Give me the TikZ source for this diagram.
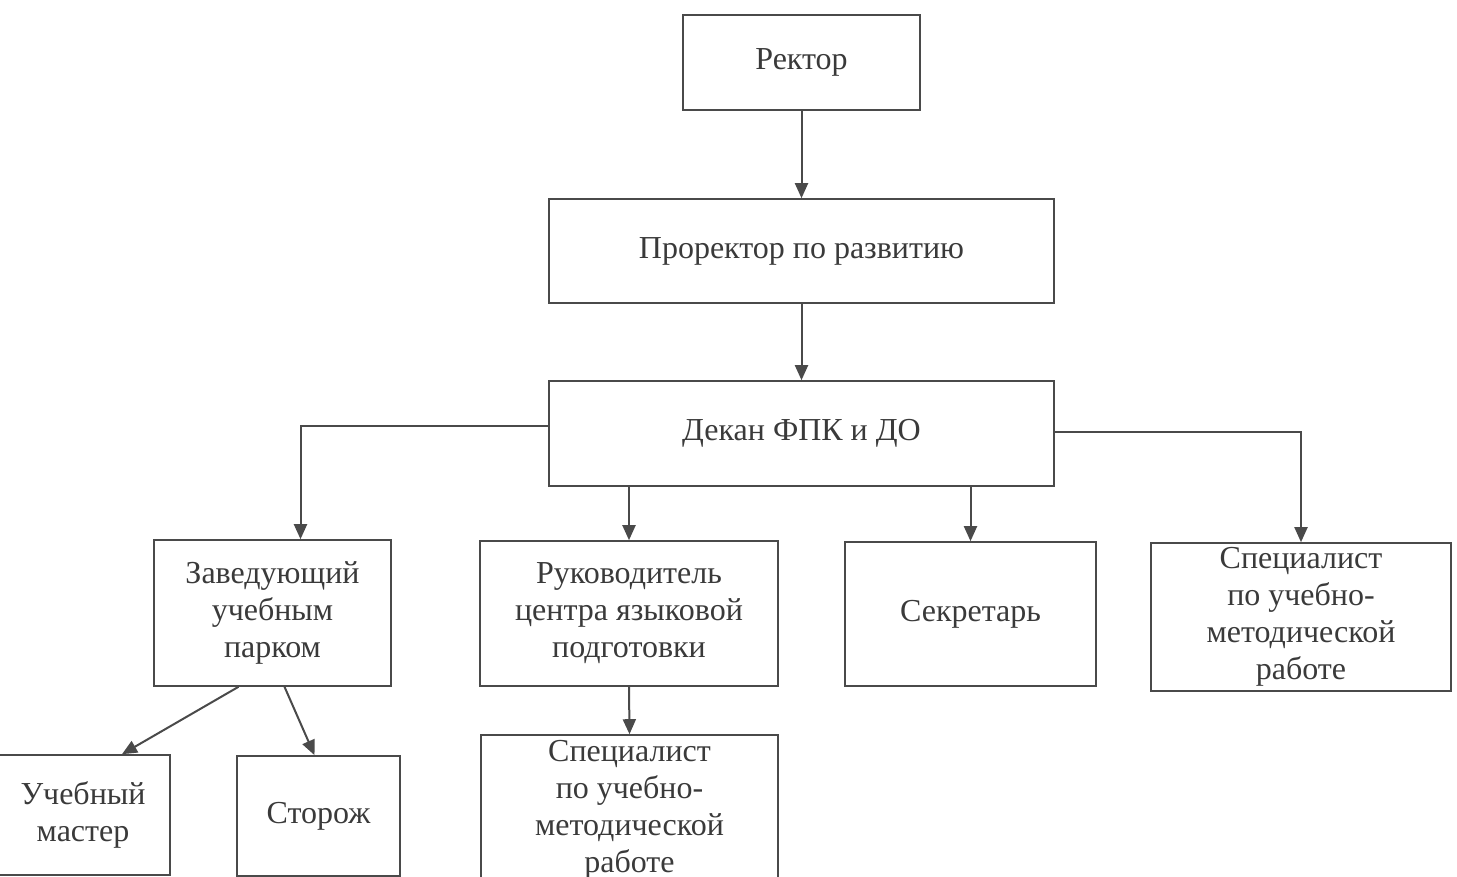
\documentclass[tikz,border=0pt]{standalone}
\usepackage{fontspec}
\setmainfont{Liberation Serif}
\usetikzlibrary{arrows.meta}
\definecolor{ink}{HTML}{3A3A3A}
\definecolor{edge}{HTML}{4A4A4A}

\begin{document}
\begin{tikzpicture}[x=0.5pt,y=-0.5pt,
    box/.style={draw=edge, line width=0.8pt, inner sep=0pt, align=center,
        text=ink, font=\fontsize{16}{18.5}\selectfont},
    arr/.style={draw=edge, line width=1pt, -{Triangle[length=7.5pt,width=6.5pt]}}]
    \useasboundingbox (0,0) rectangle (1457,877);
    \clip (0,0) rectangle (1457,877);

    \node[box, minimum width=118.5pt, minimum height=47.5pt] at (801.5, 62.5)  (rektor)  {Ректор};
    \node[box, minimum width=252.5pt, minimum height=52pt]   at (801.5, 251)   (prorektor) {Проректор по развитию};
    \node[box, minimum width=252.5pt, minimum height=52.5pt] at (801.5, 433.5) (dekan)   {Декан ФПК и ДО};
    \node[box, minimum width=118.5pt, minimum height=73pt]   at (272.5, 613)   (zav)     {Заведующий\\учебным\\парком};
    \node[box, minimum width=149pt,   minimum height=72.5pt] at (629, 613.5)   (ruk)     {Руководитель\\центра языковой\\подготовки};
    \node[box, minimum width=125.5pt, minimum height=72pt]   at (970.5, 614)   (sekr)    {Секретарь};
    \node[box, minimum width=150pt,   minimum height=74pt]   at (1301, 617)    (spec_r)  {Специалист\\по учебно-\\методической\\работе};
    \node[box, minimum width=87pt,    minimum height=60pt]   at (83, 815)      (uchmast) {Учебный\\мастер};
    \node[box, minimum width=81.5pt,  minimum height=60pt]   at (318.5, 816)   (storozh) {Сторож};
    \node[box, minimum width=148.5pt, minimum height=75pt]   at (629.5, 810)   (spec_b)  {Специалист\\по учебно-\\методической\\работе};

    \draw[arr] (rektor.south) -- (prorektor.north);
    \draw[arr] (prorektor.south) -- (dekan.north);
    \draw[arr] ([yshift=4pt]dekan.west) -| ([xshift=14pt]zav.north);
    \draw[arr] (ruk.north |- dekan.south) -- (ruk.north);
    \draw[arr] (sekr.north |- dekan.south) -- (sekr.north);
    \draw[arr] ([yshift=1pt]dekan.east) -| (spec_r.north);
    \draw[arr] ([xshift=-17pt]zav.south) -- ([xshift=19.5pt]uchmast.north);
    \draw[arr] ([xshift=6pt]zav.south) -- ([xshift=-2pt]storozh.north);
    \draw[arr] (ruk.south) -- (spec_b.north);
\end{tikzpicture}
\end{document}
